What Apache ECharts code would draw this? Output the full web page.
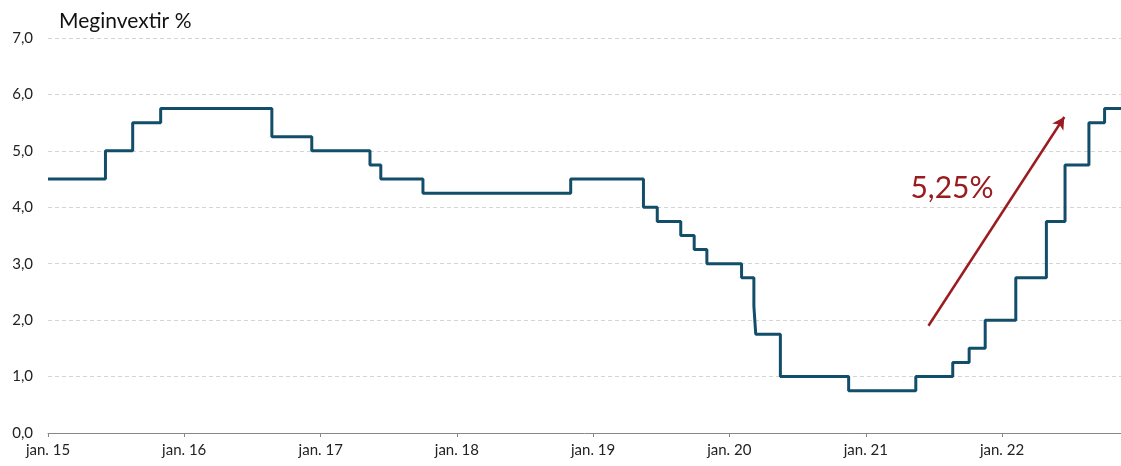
<!DOCTYPE html>
<html>
<head>
<meta charset="utf-8">
<script src="https://cdn.jsdelivr.net/npm/echarts@6/dist/echarts.min.js"></script>
<style>
  html, body { margin: 0; padding: 0; background: #fff; }
  #chart { width: 1121px; height: 466px; }
</style>
</head>
<body>
<div id="chart"></div>
<script>
// Policy rate: date of each change and the new rate (%)
const rateDates = [
  '2015-01-01', '2015-06-04', '2015-08-16', '2015-10-30', '2016-08-23',
  '2016-12-08', '2017-05-13', '2017-06-11', '2017-10-02', '2018-11-02',
  '2019-05-16', '2019-06-22', '2019-08-24', '2019-09-29', '2019-11-02',
  '2020-02-03', '2020-03-07', '2020-03-12', '2020-05-17', '2020-11-16',
  '2021-05-15', '2021-08-22', '2021-10-05', '2021-11-17', '2022-02-07',
  '2022-04-30', '2022-06-19', '2022-08-22', '2022-10-03', '2022-11-16'
];
const rateValues = [
  4.5, 5.0, 5.5, 5.75, 5.25,
  5.0, 4.75, 4.5, 4.25, 4.5,
  4.0, 3.75, 3.5, 3.25, 3.0,
  2.75, 2.25, 1.75, 1.0, 0.75,
  1.0, 1.25, 1.5, 2.0, 2.75,
  3.75, 4.75, 5.5, 5.75, 5.75
];
const xStart = '2015-01-01';
const xEnd = '2022-11-16';
const yTicks = [0, 1, 2, 3, 4, 5, 6, 7];

// Rising-trend annotation
const arrowFrom = ['2021-06-18', 1.9];
const arrowTo = ['2022-06-17', 5.6];
const arrowLabel = '5,25%';
const arrowLabelAt = ['2021-08-20', 4.34];

const dark = '#9b1c20';
const lineColor = '#124d6a';
const fontFam = 'Lato, "Open Sans", sans-serif';

const chart = echarts.init(document.getElementById('chart'));
const DAY = 24 * 3600 * 1000;

chart.setOption({
  animation: false,
  backgroundColor: '#ffffff',
  title: {
    text: 'Meginvextir %',
    left: 54,
    top: 6,
    textStyle: { fontFamily: fontFam, fontSize: 21, fontWeight: 'normal', color: '#111' }
  },
  grid: { left: 48, right: 0, top: 38, bottom: 33, containLabel: false },
  xAxis: {
    type: 'time',
    min: xStart,
    max: xEnd,
    minInterval: 365 * DAY,
    maxInterval: 366 * DAY,
    splitLine: { show: false },
    axisLine: { show: true, lineStyle: { color: '#888', width: 1 } },
    axisTick: { show: true, length: 4, lineStyle: { color: '#888' } },
    axisLabel: {
      fontFamily: fontFam, fontSize: 15, color: '#222', margin: 10,
      formatter: v => 'jan. ' + String(new Date(v).getFullYear()).slice(2),
      hideOverlap: false
    }
  },
  yAxis: {
    type: 'value',
    min: yTicks[0],
    max: yTicks[yTicks.length - 1],
    interval: 1,
    axisLine: { show: false },
    axisTick: { show: false },
    axisLabel: {
      fontFamily: fontFam, fontSize: 15, color: '#222', margin: 15,
      formatter: v => v.toFixed(1).replace('.', ',')
    },
    splitLine: { show: true, lineStyle: { color: '#d4d4d4', type: [4, 3], width: 1 } }
  },
  series: [{
    type: 'line',
    step: 'end',
    data: rateDates.map((d, i) => [d, rateValues[i]]),
    symbol: 'none',
    lineStyle: { color: lineColor, width: 3 },
    z: 3,
    markLine: {
      silent: true,
      symbol: ['none', 'arrow'],
      symbolSize: [10, 12],
      label: { show: false },
      lineStyle: { color: dark, width: 2.5, type: 'solid' },
      data: [[{ coord: arrowFrom }, { coord: arrowTo }]]
    },
    markPoint: {
      silent: true,
      symbol: 'circle',
      symbolSize: 0,
      label: {
        show: true, position: 'inside', formatter: arrowLabel,
        fontFamily: fontFam, fontSize: 30, color: dark
      },
      data: [{ coord: arrowLabelAt }]
    }
  }]
});
</script>
</body>
</html>
